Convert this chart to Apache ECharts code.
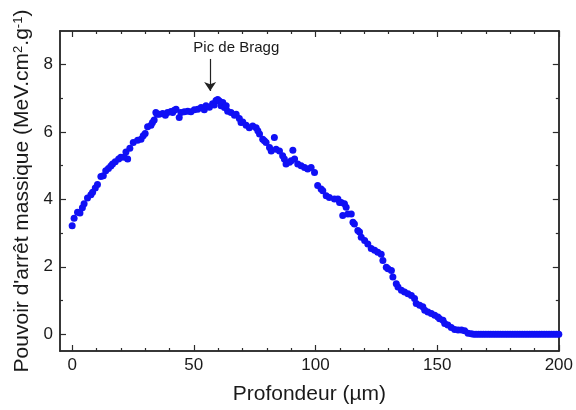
<!DOCTYPE html>
<html>
<head>
<meta charset="utf-8">
<script src="https://cdn.jsdelivr.net/npm/echarts@6/dist/echarts.min.js"></script>
<style>
html,body{margin:0;padding:0;background:#fff;}
#chart{width:576px;height:410px;}
</style>
</head>
<body>
<div id="chart"></div>
<script>
// Depth (µm)
var depth = [
  0, 0.8, 2.2, 3.2, 4.2, 4.9, 6.3, 7.7, 8.4, 9.5, 10.4, 11.8, 12.8, 13.8, 14.9, 15.9, 16.6, 17.7, 19.1, 20.0,
  21.4, 22.1, 22.8, 23.7, 25.1, 26.9, 28.3, 29.2, 30.0, 31.0, 32.4, 33.0, 33.7, 34.4, 34.9, 35.8, 37.2, 38.3, 39.2, 40.6,
  41.3, 42.0, 42.7, 44.0, 44.7, 46.1, 47.5, 48.8, 50.2, 51.6, 53.0, 54.3, 55.0, 56.4, 57.7, 58.4, 59.1, 59.8, 60.5, 61.2,
  61.9, 62.6, 63.3, 63.9, 65.3, 66.7, 67.4, 68.7, 69.4, 70.1, 71.5, 72.8, 74.2, 75.6, 76.3, 77.0, 78.3, 79.0, 79.7, 81.1,
  81.8, 83.1, 83.8, 85.2, 86.5, 87.2, 87.9, 89.3, 90.0, 90.7, 91.4, 92.7, 94.1, 95.5, 96.8, 98.2, 99.6, 100.9, 102.3, 103.0,
  104.4, 105.7, 107.8, 109.2, 109.9, 110.6, 111.9, 112.6, 111.2, 113.3, 114.7, 115.4, 116.0, 117.4, 118.1, 118.8, 120.2, 121.5, 122.9, 124.3,
  125.6, 127.0, 127.7, 129.1, 129.8, 131.2, 131.8, 133.2, 133.9, 135.3, 136.6, 138.0, 139.4, 140.7, 141.4, 142.8, 144.1, 144.9, 146.2, 147.6,
  149.0, 150.3, 151.0, 152.4, 153.1, 154.4, 155.8, 157.2, 158.6, 160.0, 161.3, 162.7, 164.0,
  165, 166, 167, 168, 169, 170, 171, 172, 173, 174, 175, 176, 177, 178, 179, 180, 181, 182, 183, 184,
  185, 186, 187, 188, 189, 190, 191, 192, 193, 194, 195, 196, 197, 198, 199, 200
];
// Mass stopping power (MeV.cm2.g-1)
var stopping = [
  3.22, 3.44, 3.62, 3.60, 3.75, 3.87, 4.04, 4.14, 4.21, 4.34, 4.44, 4.68, 4.70, 4.85, 4.92, 4.99, 5.05, 5.12, 5.20, 5.25,
  5.25, 5.41, 5.20, 5.52, 5.69, 5.76, 5.79, 5.89, 5.96, 6.16, 6.20, 6.28, 6.36, 6.58, 6.53, 6.53, 6.55, 6.50, 6.58, 6.61,
  6.58, 6.65, 6.68, 6.43, 6.58, 6.60, 6.62, 6.60, 6.66, 6.68, 6.73, 6.66, 6.78, 6.74, 6.84, 6.80, 6.94, 6.97, 6.92, 6.78,
  6.88, 6.73, 6.78, 6.62, 6.58, 6.50, 6.53, 6.40, 6.28, 6.30, 6.20, 6.13, 6.18, 6.13, 6.04, 5.94, 5.79, 5.74, 5.69, 5.54,
  5.44, 5.84, 5.49, 5.44, 5.30, 5.20, 5.05, 5.10, 5.15, 5.46, 5.20, 5.05, 5.00, 4.95, 4.90, 4.95, 4.80, 4.41, 4.31, 4.26,
  4.11, 4.06, 4.01, 4.01, 3.91, 3.91, 3.87, 3.77, 3.52, 3.57, 3.57, 3.32, 3.27, 3.08, 3.03, 2.88, 2.78, 2.68, 2.54, 2.49,
  2.43, 2.37, 2.19, 1.99, 1.94, 1.89, 1.70, 1.50, 1.40, 1.30, 1.25, 1.20, 1.15, 1.06, 0.91, 0.86, 0.81, 0.71, 0.66, 0.61,
  0.56, 0.51, 0.46, 0.41, 0.32, 0.27, 0.20, 0.14, 0.12, 0.12, 0.10, 0.03, 0.01,
  0, 0, 0, 0, 0, 0, 0, 0, 0, 0, 0, 0, 0, 0, 0, 0, 0, 0, 0, 0,
  0, 0, 0, 0, 0, 0, 0, 0, 0, 0, 0, 0, 0, 0, 0, 0
];
var xMajorTicks = [0, 50, 100, 150, 200];
var xMinorTicks = [10, 20, 30, 40, 60, 70, 80, 90, 110, 120, 130, 140, 160, 170, 180, 190];
var yMajorTicks = [0, 2, 4, 6, 8];
var yMinorTicks = [1, 3, 5, 7];
var xTitle = 'Profondeur (µm)';
var annotationText = 'Pic de Bragg';
var peakArrowX = 56.7;
var peakArrowFrom = 8.17;
var peakArrowTo = 7.22;
var annotationPos = [49.8, 8.49];

var FONT = 'Arial, "Liberation Sans", Helvetica, sans-serif';
var AX = '#2b2b2b';
var TXT = '#1a1a1a';

var points = depth.map(function (d, i) { return [d, stopping[i]]; });

function xAx(pos, ticks, len, labels, extra) {
  var o = {
    type: 'value', min: -5, max: 200, position: pos, gridIndex: 0,
    splitLine: { show: false },
    axisLine: { show: true, onZero: false, lineStyle: { color: AX, width: 1.5 } },
    axisTick: { show: true, inside: true, length: len, customValues: ticks, lineStyle: { color: AX, width: 1.2 } },
    axisLabel: labels ? { show: true, customValues: ticks, fontSize: 17, color: TXT, fontFamily: FONT, margin: 6 } : { show: false }
  };
  for (var k in extra) o[k] = extra[k];
  return o;
}
function yAx(pos, ticks, len, labels, extra) {
  var o = {
    type: 'value', min: -0.5, max: 9, position: pos, gridIndex: 0,
    splitLine: { show: false },
    axisLine: { show: true, onZero: false, lineStyle: { color: AX, width: 1.5 } },
    axisTick: { show: true, inside: true, length: len, customValues: ticks, lineStyle: { color: AX, width: 1.2 } },
    axisLabel: labels ? { show: true, customValues: ticks, fontSize: 17, color: TXT, fontFamily: FONT, margin: 7 } : { show: false }
  };
  for (var k in extra) o[k] = extra[k];
  return o;
}

var chart = echarts.init(document.getElementById('chart'), null, { renderer: 'canvas' });
chart.setOption({
  animation: false,
  backgroundColor: '#ffffff',
  grid: { left: 60, right: 16, top: 31, bottom: 58, containLabel: false },
  xAxis: [
    xAx('bottom', xMajorTicks, 6, true, {
      name: xTitle, nameLocation: 'middle', nameGap: 33,
      nameTextStyle: { fontSize: 21, color: TXT, fontFamily: FONT }
    }),
    xAx('bottom', xMinorTicks, 3, false, {}),
    xAx('top', xMajorTicks, 6, false, {}),
    xAx('top', xMinorTicks, 3, false, {})
  ],
  yAxis: [
    yAx('left', yMajorTicks, 6, true, {
      name: "Pouvoir d'arrêt massique (MeV.cm{sup|2}.g{sup|-1})",
      nameLocation: 'middle', nameGap: 27, nameRotate: 90,
      nameTextStyle: {
        fontSize: 21, color: TXT, fontFamily: FONT,
        rich: { sup: { fontSize: 13, color: TXT, fontFamily: FONT, verticalAlign: 'top', lineHeight: 13 } }
      }
    }),
    yAx('left', yMinorTicks, 3, false, {}),
    yAx('right', yMajorTicks, 6, false, {}),
    yAx('right', yMinorTicks, 3, false, {})
  ],
  series: [{
    type: 'scatter',
    xAxisIndex: 0, yAxisIndex: 0,
    data: points,
    symbol: 'circle',
    symbolSize: 7,
    itemStyle: { color: '#1010f5', opacity: 1 },
    silent: true,
    markLine: {
      silent: true,
      symbol: ['none', 'arrow'],
      symbolSize: 9,
      lineStyle: { color: '#222', width: 1.2, type: 'solid' },
      itemStyle: { color: '#222' },
      label: { show: false },
      data: [[
        { coord: [peakArrowX, peakArrowFrom], symbol: 'none' },
        { coord: [peakArrowX, peakArrowTo], symbol: 'arrow', symbolSize: 9 }
      ]]
    },
    markPoint: {
      silent: true,
      symbol: 'circle',
      symbolSize: 0,
      data: [{
        coord: annotationPos,
        label: {
          show: true, position: 'right', distance: 0, formatter: annotationText,
          fontSize: 15, color: TXT, fontFamily: FONT
        }
      }]
    }
  }]
});
</script>
</body>
</html>
